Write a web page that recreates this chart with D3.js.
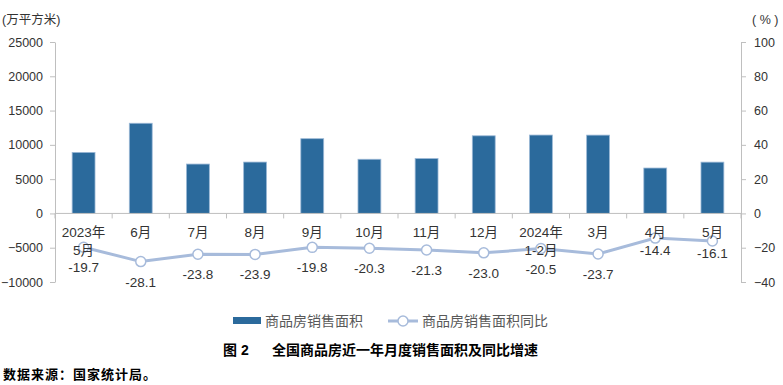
<!DOCTYPE html>
<html>
<head>
<meta charset="utf-8">
<script src="https://d3js.org/d3.v7.min.js"></script>
<style>
  body { margin: 0; background: #fff; }
  text { font-family: "Liberation Sans", "Noto Sans CJK SC", sans-serif; }
</style>
</head>
<body>
<script>
// data
var categories = ["2023年\n5月", "6月", "7月", "8月", "9月", "10月", "11月", "12月", "2024年\n1-2月", "3月", "4月", "5月"];
var salesArea = [8900, 13150, 7200, 7490, 10900, 7900, 8000, 11320, 11430, 11420, 6620, 7480];
var yoy = [-19.7, -28.1, -23.8, -23.9, -19.8, -20.3, -21.3, -23.0, -20.5, -23.7, -14.4, -16.1];
var leftTicks = [-10000, -5000, 0, 5000, 10000, 15000, 20000, 25000];
var rightTicks = [-40, -20, 0, 20, 40, 60, 80, 100];

var W = 783, H = 385;
var plot = { left: 55, right: 741, top: 42, bottom: 282 };

var svg = d3.select("body").append("svg")
    .attr("width", W)
    .attr("height", H);

svg.append("rect").attr("width", W).attr("height", H).attr("fill", "#fff");

var x = d3.scaleBand()
    .domain(categories)
    .range([plot.left, plot.right])
    .paddingInner(0.6)
    .paddingOuter(0.3);

var yL = d3.scaleLinear().domain([-10000, 25000]).range([plot.bottom, plot.top]);
var yR = d3.scaleLinear().domain([-40, 100]).range([plot.bottom, plot.top]);

var axisColor = "#bfbfbf";
var textColor = "#333";

// left axis
var gL = svg.append("g")
    .attr("transform", "translate(" + plot.left + ",0)")
    .call(d3.axisLeft(yL).tickValues(leftTicks).tickSize(5).tickSizeOuter(0).tickPadding(7).tickFormat(d3.format("d")));
// right axis
var gR = svg.append("g")
    .attr("transform", "translate(" + plot.right + ",0)")
    .call(d3.axisRight(yR).tickValues(rightTicks).tickSize(5).tickSizeOuter(0).tickPadding(8).tickFormat(d3.format("d")));

[gL, gR].forEach(function (g) {
  g.select(".domain").attr("stroke", axisColor);
  g.selectAll(".tick line").attr("stroke", axisColor);
  g.selectAll(".tick text").attr("fill", textColor).style("font-size", "12.5px")
    .style("font-family", "'Liberation Sans', sans-serif");
});

// bars
svg.append("g").selectAll("rect")
  .data(salesArea)
  .join("rect")
    .attr("x", function (d, i) { return x(categories[i]); })
    .attr("y", function (d) { return yL(d); })
    .attr("width", x.bandwidth())
    .attr("height", function (d) { return yL(0) - yL(d); })
    .attr("fill", "#2b6a9c")
    .attr("stroke", "#9bb8d6")
    .attr("stroke-width", 0.8);

// category axis at zero
var y0 = yL(0);
svg.append("line")
    .attr("x1", plot.left).attr("x2", plot.right)
    .attr("y1", y0).attr("y2", y0)
    .attr("stroke", axisColor);

var step = x.step();
var bounds = d3.range(categories.length + 1).map(function (i) { return plot.left + i * step; });
svg.append("g").selectAll("line")
  .data(bounds)
  .join("line")
    .attr("x1", function (d) { return d; })
    .attr("x2", function (d) { return d; })
    .attr("y1", y0).attr("y2", y0 + 5)
    .attr("stroke", axisColor);

// yoy line
var lineColor = "#a7bbdb";
var cx = function (d, i) { return x(categories[i]) + x.bandwidth() / 2; };

var line = d3.line()
    .x(cx)
    .y(function (d) { return yR(d); });

svg.append("path")
    .datum(yoy)
    .attr("d", line)
    .attr("fill", "none")
    .attr("stroke", lineColor)
    .attr("stroke-width", 3);

svg.append("g").selectAll("circle")
  .data(yoy)
  .join("circle")
    .attr("cx", cx)
    .attr("cy", function (d) { return yR(d); })
    .attr("r", 5)
    .attr("fill", "#fff")
    .attr("stroke", lineColor)
    .attr("stroke-width", 1.5);

svg.append("g").selectAll("text")
  .data(yoy)
  .join("text")
    .attr("x", cx)
    .attr("y", function (d, i) { return yR(d) + (i >= 10 ? 17 : 25); })
    .attr("text-anchor", "middle")
    .attr("fill", textColor)
    .style("font-size", "13.5px")
    .text(function (d) { return d.toFixed(1); });

// category labels drawn over the line, as in the source
var catLabels = svg.append("g").selectAll("text")
  .data(categories)
  .join("text")
    .attr("x", function (d) { return x(d) + x.bandwidth() / 2; })
    .attr("y", 237)
    .attr("text-anchor", "middle")
    .attr("fill", textColor)
    .style("font-size", "13.5px");

catLabels.each(function (d) {
  var t = d3.select(this);
  d.split("\n").forEach(function (part, j) {
    t.append("tspan")
      .attr("x", x(d) + x.bandwidth() / 2)
      .attr("dy", j === 0 ? 0 : 18)
      .text(part);
  });
});

// unit labels
svg.append("text")
    .attr("x", 2).attr("y", 24)
    .attr("fill", textColor)
    .style("font-size", "12.5px")
    .text("(万平方米)");

svg.append("text")
    .attr("x", 752).attr("y", 24)
    .attr("fill", textColor)
    .style("font-size", "12.5px")
    .text("( % )");

// legend
var legendColor = "#595959";
svg.append("rect")
    .attr("x", 233).attr("y", 317)
    .attr("width", 28).attr("height", 7)
    .attr("fill", "#2b6a9c");
svg.append("text")
    .attr("x", 265).attr("y", 326)
    .attr("fill", legendColor)
    .style("font-size", "14px")
    .text("商品房销售面积");

svg.append("line")
    .attr("x1", 388).attr("x2", 418)
    .attr("y1", 321).attr("y2", 321)
    .attr("stroke", lineColor)
    .attr("stroke-width", 3);
svg.append("circle")
    .attr("cx", 403).attr("cy", 321).attr("r", 5)
    .attr("fill", "#fff")
    .attr("stroke", lineColor)
    .attr("stroke-width", 1.5);
svg.append("text")
    .attr("x", 422).attr("y", 326)
    .attr("fill", legendColor)
    .style("font-size", "14px")
    .text("商品房销售面积同比");

// title
svg.append("text")
    .attr("x", 223).attr("y", 355)
    .attr("fill", "#000")
    .style("font-size", "14px")
    .style("font-weight", "bold")
    .text("图 2");
svg.append("text")
    .attr("x", 272).attr("y", 355)
    .attr("fill", "#000")
    .style("font-size", "14px")
    .style("font-weight", "bold")
    .text("全国商品房近一年月度销售面积及同比增速");

// source
svg.append("text")
    .attr("x", 3).attr("y", 379)
    .attr("fill", "#000")
    .style("font-size", "13px")
    .style("letter-spacing", "1px")
    .style("font-weight", "bold")
    .text("数据来源：国家统计局。");
</script>
</body>
</html>
